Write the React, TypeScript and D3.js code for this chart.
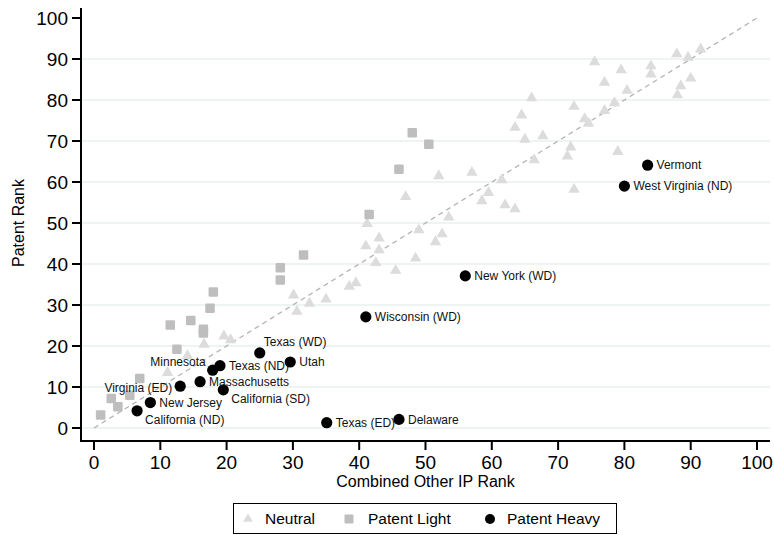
import React from 'react';
import * as d3 from 'd3';

// Neutral districts: [Combined Other IP Rank, Patent Rank]
const neutral: [number, number][] = [
  [87.9, 91.2], [91.5, 92.4], [89.6, 90.4], [75.5, 89.3], [79.5, 87.3], [84.0, 88.3],
  [84.0, 86.3], [77.0, 84.3], [90.0, 85.3], [88.5, 83.4], [88.0, 81.2], [80.4, 82.3],
  [72.4, 78.4], [78.5, 79.3], [77.0, 77.4], [74.0, 75.4], [74.6, 74.3], [67.7, 71.2],
  [71.9, 68.5], [71.4, 66.3], [79.0, 67.4], [72.4, 58.2], [66.0, 80.5], [64.5, 76.3],
  [63.5, 73.3], [65.0, 70.4], [66.4, 65.4], [61.5, 60.5], [59.5, 57.4], [58.5, 55.4],
  [62.0, 54.4], [63.5, 53.4], [52.0, 61.5], [57.0, 62.3], [47.0, 56.4], [53.5, 51.4],
  [41.2, 49.8], [49.0, 48.3], [43.0, 46.3], [52.5, 47.3], [51.5, 45.4], [41.0, 44.4],
  [43.0, 43.4], [42.5, 40.3], [48.5, 41.4], [45.5, 38.4], [38.5, 34.5], [39.5, 35.4],
  [35.0, 31.4], [32.5, 30.4], [30.1, 32.4], [30.6, 28.4], [19.6, 22.4], [20.6, 21.5],
  [16.6, 20.4], [14.1, 17.6], [11.1, 13.5],
];

// Patent Light districts
const patentLight: [number, number][] = [
  [1.0, 3.2], [2.6, 7.2], [3.6, 5.2], [5.4, 8.0], [6.9, 12.1], [11.5, 25.1], [12.5, 19.2],
  [14.6, 26.2], [16.5, 24.1], [16.5, 23.2], [17.5, 29.2], [18.0, 33.2], [28.1, 39.1],
  [28.1, 36.1], [31.6, 42.2], [41.5, 52.1], [46.0, 63.1], [48.0, 72.0], [50.5, 69.2],
];

// Patent Heavy districts
const heavyNames = [
  'Vermont', 'West Virginia (ND)', 'New York (WD)', 'Wisconsin (WD)', 'Texas (WD)', 'Utah',
  'Texas (ND)', 'Minnesota', 'Massachusetts', 'California (SD)', 'Virginia (ED)',
  'New Jersey', 'California (ND)', 'Texas (ED)', 'Delaware',
];
const heavyX = [83.5, 80.0, 56.0, 41.0, 25.0, 29.6, 19.0, 17.9, 16.0, 19.5, 13.0, 8.5, 6.5, 35.1, 46.0];
const heavyY = [64.1, 59.0, 37.1, 27.1, 18.3, 16.1, 15.2, 14.1, 11.3, 9.3, 10.2, 6.2, 4.2, 1.3, 2.1];
// clock position of each label (Stata mlabposition)
const heavyLabelPos = [3, 3, 3, 3, 1, 3, 3, 11, 3, 4, 9, 3, 4, 3, 3];

const xTicks = [0, 10, 20, 30, 40, 50, 60, 70, 80, 90, 100];
const yTicks = [0, 10, 20, 30, 40, 50, 60, 70, 80, 90, 100];
const legendLabels = ['Neutral', 'Patent Light', 'Patent Heavy'];

const W = 774;
const H = 535;
const FONT = '"Liberation Sans", Arial, Helvetica, sans-serif';
const AXIS_X = 81;
const AXIS_Y = 441;
const RIGHT = 770;
const TOP = 8;

const TRI_COLOR = '#dcdcdc';
const SQ_COLOR = '#bebebe';
const HEAVY_COLOR = '#000000';
const GRID_COLOR = '#e9eff1';

export default function App() {
  const x = d3.scaleLinear().domain([0, 100]).range([94, 757]);
  const y = d3.scaleLinear().domain([0, 100]).range([428, 18]);
  const tri = d3.symbol().type(d3.symbolTriangle).size(56)();
  const triLegend = d3.symbol().type(d3.symbolTriangle).size(40)();
  const sq = 9.5;
  const line = d3.line<number>().x((d) => x(d)).y((d) => y(d));

  const labelOffset = (pos: number) => {
    switch (pos) {
      case 1: return { dx: 4, dy: -11, anchor: 'start' };
      case 4: return { dx: 8, dy: 9, anchor: 'start' };
      case 9: return { dx: -8, dy: 2, anchor: 'end' };
      case 11: return { dx: -7, dy: -8, anchor: 'end' };
      default: return { dx: 9, dy: 0, anchor: 'start' };
    }
  };

  return (
    <svg width={W} height={H} style={{ position: 'absolute', left: 0, top: 0, background: '#fff' }} fontFamily={FONT}>
      <rect x={0} y={0} width={W} height={H} fill="#fff" />
      {/* grid */}
      {yTicks.filter((t) => t < 100).map((t) => (
        <line key={'g' + t} x1={AXIS_X} x2={RIGHT} y1={y(t)} y2={y(t)} stroke={GRID_COLOR} strokeWidth={1.4} />
      ))}
      {/* 45-degree reference line */}
      <path d={line([0, 100]) || ''} stroke="#b4b4b4" strokeWidth={1.3} strokeDasharray="5,4" fill="none" />
      {/* neutral */}
      {neutral.map((d, i) => (
        <path key={'n' + i} d={tri || ''} transform={`translate(${x(d[0])},${y(d[1])})`} fill={TRI_COLOR} />
      ))}
      {/* patent light */}
      {patentLight.map((d, i) => (
        <rect key={'l' + i} x={x(d[0]) - sq / 2} y={y(d[1]) - sq / 2} width={sq} height={sq} rx={1.2} fill={SQ_COLOR} />
      ))}
      {/* patent heavy */}
      {heavyX.map((v, i) => (
        <circle key={'h' + i} cx={x(v)} cy={y(heavyY[i])} r={5.6} fill={HEAVY_COLOR} />
      ))}
      {heavyX.map((v, i) => {
        const o = labelOffset(heavyLabelPos[i]);
        return (
          <text key={'t' + i} x={x(v) + o.dx} y={y(heavyY[i]) + o.dy} dy="0.35em" textAnchor={o.anchor}
            fontSize={12} fill="#111">{heavyNames[i]}</text>
        );
      })}
      {/* axes */}
      <line x1={AXIS_X} x2={AXIS_X} y1={TOP} y2={AXIS_Y + 1} stroke="#000" strokeWidth={2} />
      <line x1={AXIS_X - 1} x2={RIGHT} y1={AXIS_Y} y2={AXIS_Y} stroke="#000" strokeWidth={2} />
      {yTicks.map((t) => (
        <g key={'yt' + t}>
          <line x1={AXIS_X - 9} x2={AXIS_X} y1={y(t)} y2={y(t)} stroke="#000" strokeWidth={2} />
          <text x={AXIS_X - 13} y={y(t)} dy="0.35em" textAnchor="end" fontSize={19} fill="#000">{t}</text>
        </g>
      ))}
      {xTicks.map((t) => (
        <g key={'xt' + t}>
          <line x1={x(t)} x2={x(t)} y1={AXIS_Y} y2={AXIS_Y + 9} stroke="#000" strokeWidth={2} />
          <text x={x(t)} y={462} dy="0.35em" textAnchor="middle" fontSize={19} fill="#000">{t}</text>
        </g>
      ))}
      <text x={(94 + 757) / 2} y={481} dy="0.35em" textAnchor="middle" fontSize={16} fill="#000">Combined Other IP Rank</text>
      <text transform={`translate(18,${(18 + 428) / 2}) rotate(-90)`} dy="0.35em" textAnchor="middle" fontSize={16} fill="#000">Patent Rank</text>
      {/* legend */}
      <rect x={233.5} y={503.5} width={383} height={30} fill="#fff" stroke="#000" strokeWidth={1} />
      <path d={triLegend || ''} transform="translate(248,519)" fill={TRI_COLOR} />
      <text x={265} y={519} dy="0.35em" fontSize={15.5} fill="#000">{legendLabels[0]}</text>
      <rect x={349 - 4.5} y={519 - 4.5} width={9} height={9} rx={1} fill={SQ_COLOR} />
      <text x={368} y={519} dy="0.35em" fontSize={15.5} fill="#000">{legendLabels[1]}</text>
      <circle cx={490} cy={519} r={5} fill={HEAVY_COLOR} />
      <text x={507} y={519} dy="0.35em" fontSize={15.5} fill="#000">{legendLabels[2]}</text>
    </svg>
  );
}
